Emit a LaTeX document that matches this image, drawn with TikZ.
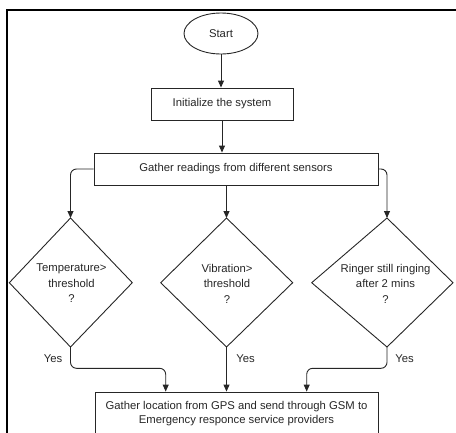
\documentclass[tikz,border=0pt]{standalone}
\usepackage{fontspec}
\setmainfont{Liberation Sans}
\usetikzlibrary{shapes.geometric,arrows.meta}
\definecolor{ln}{HTML}{262626}
\definecolor{tx}{HTML}{262626}
\tikzset{
  txt/.style={font=\fontsize{11.3}{15.5}\selectfont, text=tx},
  boxnode/.style={draw=ln, line width=0.9pt, rectangle, inner sep=0pt, txt},
  arr/.style={draw=ln, line width=0.9pt, -{Triangle[length=7pt,width=6pt]}},
  plain/.style={draw=ln, line width=0.9pt},
  dia/.style={draw=ln, line width=0.9pt},
}
\begin{document}
\begin{tikzpicture}[x=1pt,y=-1pt]
\useasboundingbox (0,0) rectangle (456,432);
\clip (0,0) rectangle (456,432);
% frame
\draw[line width=2pt, black] (456,10) -- (7,10) -- (7,433);
% nodes
\node[boxnode, ellipse, minimum width=74pt, minimum height=41pt] (start) at (221,33.5) {Start};
\node[boxnode, minimum width=142pt, minimum height=32pt] (init) at (222,104) {Initialize the system};
\node[boxnode, minimum width=284pt, minimum height=32pt] (gather) at (236,169) {Gather readings from different sensors};
\node[boxnode, minimum width=283pt, minimum height=43pt, align=center, font=\fontsize{11.3}{13.3}\selectfont] (out) at (236.5,413.5) {Gather location from GPS and send through GSM to\\Emergency responce service providers};
% diamonds
\coordinate (dLl) at (9.3,282.7); \coordinate (dLt) at (70.5,218); \coordinate (dLr) at (132.3,282.7); \coordinate (dLb) at (70.5,347);
\coordinate (dMl) at (160.7,282.7); \coordinate (dMt) at (226.5,218); \coordinate (dMr) at (292.7,282.7); \coordinate (dMb) at (226.5,347);
\coordinate (dRl) at (311.7,282.7); \coordinate (dRt) at (387,218); \coordinate (dRr) at (453,282.7); \coordinate (dRb) at (387,347);
\draw[dia] (dLl) -- (dLt) -- (dLr) -- (dLb) -- cycle;
\draw[dia] (dMl) -- (dMt) -- (dMr) -- (dMb) -- cycle;
\draw[dia] (dRl) -- (dRt) -- (dRr) -- (dRb) -- cycle;
\node[txt, align=center] (tL) at (71.5,283.5) {Temperature>\\threshold\\?};
\node[txt, align=center] (tM) at (227,283.5) {Vibration>\\threshold\\?};
\node[txt, align=center] (tR) at (385.5,283.5) {Ringer still ringing\\after 2 mins\\?};
% yes labels
\node[txt] (yL) at (53,359) {Yes};
\node[txt] (yM) at (245.5,359) {Yes};
\node[txt] (yR) at (404.5,359) {Yes};
% connectors
\draw[arr] (start.south) -- (start.south |- init.north);
\draw[arr] (init.south) -- (init.south |- gather.north);
\draw[arr, rounded corners=6pt] (gather.west) -| (dLt);
\draw[arr] (dMt |- gather.south) -- (dMt);
\draw[arr, rounded corners=6pt] (gather.east) -| (dRt);
\coordinate (jL) at (165.7,368.3);
\coordinate (jR) at (306.7,368.3);
\draw[arr, rounded corners=6pt] (dLb) |- (jL) -- (jL |- out.north);
\draw[arr] (dMb) -- (dMb |- out.north);
\draw[arr, rounded corners=6pt] (dRb) |- (jR) -- (jR |- out.north);
\end{tikzpicture}
\end{document}
